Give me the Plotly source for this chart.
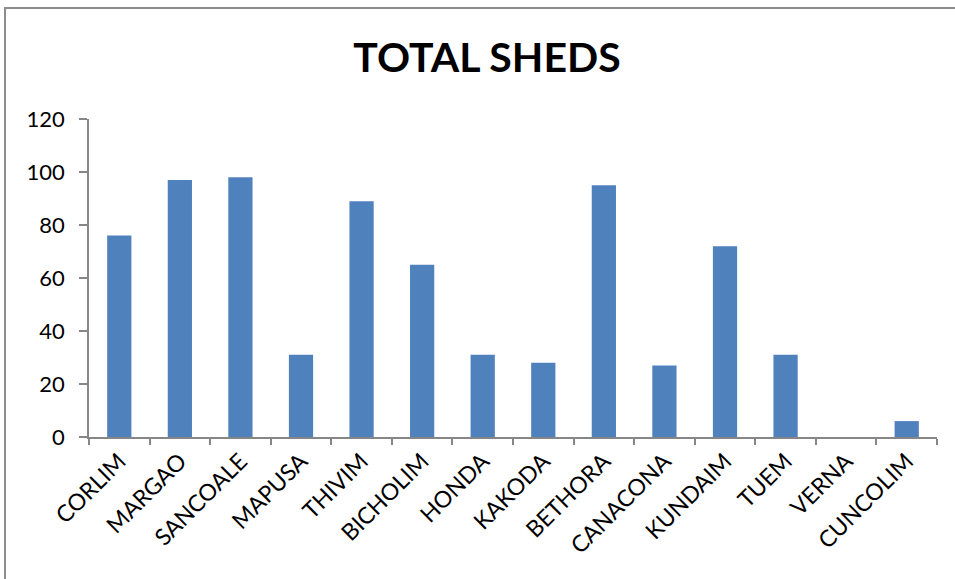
import plotly.graph_objects as go

categories = ["CORLIM", "MARGAO", "SANCOALE", "MAPUSA", "THIVIM", "BICHOLIM", "HONDA",
              "KAKODA", "BETHORA", "CANACONA", "KUNDAIM", "TUEM", "VERNA", "CUNCOLIM"]
sheds = [76, 97, 98, 31, 89, 65, 31, 28, 95, 27, 72, 31, 0, 6]
y_ticks = [0, 20, 40, 60, 80, 100, 120]

W, H = 955, 579
L, R, T, B = 89, 18, 119, 142
pw, ph = W - L - R, H - T - B

fig = go.Figure(go.Bar(x=categories, y=sheds, marker=dict(color="#4F81BD", line=dict(width=0)),
                       width=0.4))

fig.update_layout(
    width=W, height=H,
    margin=dict(l=L, r=R, t=T, b=B),
    paper_bgcolor="white", plot_bgcolor="white",
    showlegend=False,
    title=dict(text="<b>TOTAL SHEDS</b>", x=(487 - L) / pw * 0 + 487 / W, xref="paper",
               xanchor="center", y=1 - 58 / H, yanchor="middle",
               font=dict(family="Lato", size=41, color="black")),
    font=dict(family="Lato", color="black"),
)
fig.update_layout(title_xref="container", title_x=487 / W)
fig.update_xaxes(
    type="category", tickangle=-45, tickson="boundaries", ticks="outside", ticklen=6,
    tickcolor="#868686", tickwidth=1.5, showline=True, linecolor="#868686", linewidth=1.5,
    showgrid=False, tickfont=dict(family="Lato", size=23, color="black"),
)
fig.update_yaxes(
    range=[0, 120], tickvals=y_ticks, ticks="outside", ticklen=8, tickcolor="#868686",
    tickwidth=1.5, showline=True, linecolor="#868686", linewidth=1.5, showgrid=False,
    zeroline=False, tickfont=dict(family="Lato", size=22, color="black"), ticklabelstandoff=10,
)
# outer chart border
fig.add_shape(type="rect", xref="paper", yref="paper",
              x0=(5 - L) / pw, x1=(W + 20 - L) / pw,
              y0=-(H + 20 - T - ph) / ph, y1=(T + ph - 8) / ph,
              line=dict(color="#8c8c8c", width=2), layer="below")

fig.write_html("out.html")
